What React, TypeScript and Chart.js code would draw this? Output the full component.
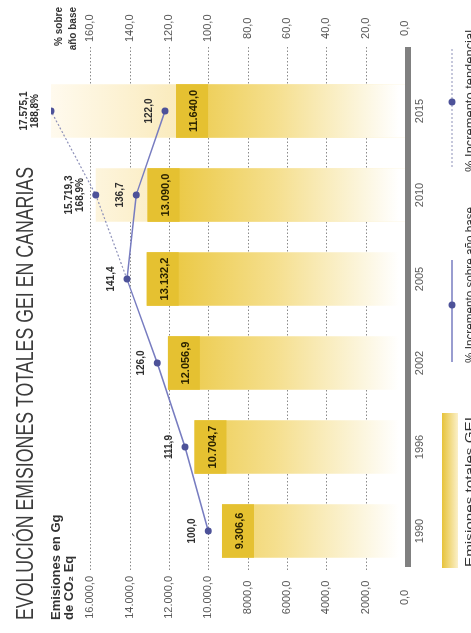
import { useEffect, useRef } from "react";
import { Chart, registerables } from "chart.js";

Chart.register(...registerables);

// ---------- data ----------
const years = ["1990", "1996", "2002", "2005", "2010", "2015"];
const emissions = [9306.6, 10704.7, 12056.9, 13132.2, 13090.0, 11640.0];
const pctIncrease = [100.0, 111.9, 126.0, 141.4, 136.7, 122.0];
// trend line (plotted on the emissions axis; 2005 starts at the 141,4 % point)
const trendLine = [null, null, null, 14140, 15719.3, 18000];
const trendBars = [null, null, null, null, 15719.3, 18000];
const trendLabelValues = [null, null, null, null, 15719.3, 17575.1];
const trendLabelPct = [null, null, null, null, 168.9, 188.8];

const TITLE = "EVOLUCIÓN EMISIONES TOTALES GEI EN CANARIAS";
const LEFT_TITLE = ["Emisiones en Gg", "de CO₂ Eq"];
const RIGHT_TITLE = ["% sobre", "año base"];
const LEGEND_BARS = "Emisiones totales GEI";
const LEGEND_LINE = "% Incremento sobre año base";
const LEGEND_TREND = "% Incremento tendencial";

const FONT = '"Liberation Sans", Arial, sans-serif';
const W = 633;
const H = 471;

function fmtNum(v: number, group = true) {
  const [i, d] = v.toFixed(1).split(".");
  const ig = group ? i.replace(/\B(?=(\d{3})+(?!\d))/g, ".") : i;
  return ig + "," + d;
}
const fmtTick = (v: number) => fmtNum(v, v >= 10000);

function fitText(ctx: CanvasRenderingContext2D, text: string, x: number, y: number, width: number) {
  const w = ctx.measureText(text).width;
  ctx.save();
  ctx.translate(x, y);
  ctx.scale(width / w, 1);
  ctx.textAlign = "left";
  ctx.fillText(text, 0, 0);
  ctx.restore();
}

const LINE_COLOR = "#777cc0";
const POINT_COLOR = "#4d5299";
const TREND_COLOR = "#8e91b9";

const decor = {
  id: "decor",
  beforeDatasetsDraw(chart: any) {
    const { ctx, chartArea: a, scales } = chart;
    const y = scales.y;
    ctx.save();
    ctx.strokeStyle = "#8a8a8a";
    ctx.lineWidth = 1;
    ctx.setLineDash([1.5, 2]);
    y.ticks.forEach((t: any) => {
      if (t.value <= 0) return;
      const py = Math.round(y.getPixelForValue(t.value)) + 0.5;
      ctx.beginPath();
      ctx.moveTo(a.left + 3, py);
      ctx.lineTo(a.right + 22, py);
      ctx.stroke();
    });
    ctx.setLineDash([]);
    ctx.fillStyle = "#808080";
    ctx.fillRect(a.left + 6, a.bottom, a.right + 22 - (a.left + 6), 6);
    ctx.restore();
  },
  afterDatasetDraw(chart: any, args: any) {
    if (args.index !== 1) return;
    const { ctx } = chart;
    const meta = chart.getDatasetMeta(1);
    ctx.save();
    meta.data.forEach((bar: any, i: number) => {
      const { x, y, width } = bar.getProps(["x", "y", "width"], true);
      ctx.fillStyle = "#e5c131";
      ctx.fillRect(x - width / 2, y, width, 32);
      ctx.fillStyle = "#2a2200";
      ctx.font = `bold 11px ${FONT}`;
      ctx.textAlign = "center";
      ctx.textBaseline = "middle";
      ctx.fillText(fmtNum(emissions[i]), x, y + 18);
    });
    ctx.restore();
  },
  afterDatasetsDraw(chart: any) {
    const { ctx } = chart;
    ctx.save();
    ctx.fillStyle = "#2e2e2e";
    ctx.font = `bold 10px ${FONT}`;
    ctx.textAlign = "center";
    ctx.textBaseline = "middle";
    chart.getDatasetMeta(2).data.forEach((p: any, i: number) => {
      ctx.fillText(fmtNum(pctIncrease[i]), p.x, p.y - 16);
    });
    chart.getDatasetMeta(3).data.forEach((p: any, i: number) => {
      const v = trendLabelValues[i];
      const pc = trendLabelPct[i];
      if (v == null || pc == null) return;
      ctx.fillText(fmtNum(v), p.x, p.y - 27);
      ctx.fillText(fmtNum(pc) + "%", p.x, p.y - 16);
    });
    ctx.restore();
  },
  afterDraw(chart: any) {
    const { ctx } = chart;
    ctx.save();
    // title
    ctx.fillStyle = "#3c3c3c";
    ctx.font = `24px ${FONT}`;
    ctx.textBaseline = "alphabetic";
    fitText(ctx, TITLE, 13, 33, 453);
    // left axis title
    ctx.fillStyle = "#333";
    ctx.font = `bold 13px ${FONT}`;
    ctx.textAlign = "left";
    ctx.fillText(LEFT_TITLE[0], 13, 60);
    ctx.fillText(LEFT_TITLE[1], 13, 73);
    // right axis title
    ctx.font = `bold 10px ${FONT}`;
    ctx.textAlign = "right";
    ctx.fillText(RIGHT_TITLE[0], 626, 62);
    ctx.fillText(RIGHT_TITLE[1], 626, 76);

    // legend
    const g = ctx.createLinearGradient(0, 442, 0, 458);
    g.addColorStop(0, "#e7c33a");
    g.addColorStop(1, "#fbf0c9");
    ctx.fillStyle = g;
    ctx.fillRect(65, 442, 155, 16);

    ctx.strokeStyle = LINE_COLOR;
    ctx.lineWidth = 1.5;
    ctx.beginPath();
    ctx.moveTo(271, 452);
    ctx.lineTo(373, 452);
    ctx.stroke();
    ctx.fillStyle = POINT_COLOR;
    ctx.beginPath();
    ctx.arc(328, 452, 3.5, 0, Math.PI * 2);
    ctx.fill();

    ctx.strokeStyle = TREND_COLOR;
    ctx.lineWidth = 1.2;
    ctx.setLineDash([2, 2]);
    ctx.beginPath();
    ctx.moveTo(466, 452);
    ctx.lineTo(585, 452);
    ctx.stroke();
    ctx.setLineDash([]);
    ctx.fillStyle = POINT_COLOR;
    ctx.beginPath();
    ctx.arc(531, 452, 3.5, 0, Math.PI * 2);
    ctx.fill();

    ctx.fillStyle = "#333";
    ctx.font = `13px ${FONT}`;
    ctx.textBaseline = "alphabetic";
    fitText(ctx, LEGEND_BARS, 66, 474, 150);
    fitText(ctx, LEGEND_LINE, 270, 474, 156);
    fitText(ctx, LEGEND_TREND, 461, 474, 142);
    ctx.restore();
  },
};

function barGradient(context: any) {
  const chart = context.chart;
  const a = chart.chartArea;
  if (!a) return "#ebc945";
  const g = chart.ctx.createLinearGradient(0, a.bottom - 230, 0, a.bottom - 6);
  g.addColorStop(0, "#ebc945");
  g.addColorStop(0.45, "#f5df8e");
  g.addColorStop(1, "#ffffff");
  return g;
}

function paleGradient(context: any) {
  const chart = context.chart;
  const a = chart.chartArea;
  if (!a) return "#fcf0cc";
  const g = chart.ctx.createLinearGradient(0, a.top, 0, a.bottom - 229);
  g.addColorStop(0, "#fffaee");
  g.addColorStop(1, "#faebbd");
  return g;
}

export default function App() {
  const ref = useRef<HTMLCanvasElement>(null);
  useEffect(() => {
    const chart = new Chart(ref.current as HTMLCanvasElement, {
      type: "bar",
      data: {
        labels: years,
        datasets: [
          {
            type: "bar",
            data: trendBars as any,
            yAxisID: "y",
            order: 4,
            grouped: false,
            backgroundColor: paleGradient as any,
            borderWidth: 0,
            barPercentage: 0.637,
            categoryPercentage: 1,
          },
          {
            type: "bar",
            data: emissions,
            yAxisID: "y",
            order: 3,
            grouped: false,
            backgroundColor: barGradient as any,
            borderWidth: 0,
            barPercentage: 0.637,
            categoryPercentage: 1,
          },
          {
            type: "line",
            data: pctIncrease,
            yAxisID: "y1",
            order: 1,
            borderColor: LINE_COLOR,
            borderWidth: 1.5,
            pointRadius: 3.5,
            pointBackgroundColor: POINT_COLOR,
            pointBorderWidth: 0,
            tension: 0,
          },
          {
            type: "line",
            data: trendLine as any,
            yAxisID: "y",
            order: 2,
            borderColor: TREND_COLOR,
            borderWidth: 1.2,
            borderDash: [2, 2],
            pointRadius: [0, 0, 0, 0, 3.5, 3.5],
            pointBackgroundColor: POINT_COLOR,
            pointBorderWidth: 0,
            tension: 0,
          },
        ],
      },
      options: {
        responsive: false,
        animation: false,
        devicePixelRatio: 1,
        layout: { padding: { top: 51, left: 0, right: 0, bottom: 0 } },
        plugins: {
          legend: { display: false },
          title: { display: false },
          tooltip: { enabled: false },
        },
        scales: {
          x: {
            type: "category",
            offset: true,
            grid: { display: false, drawTicks: false },
            border: { display: false },
            ticks: { color: "#555", font: { family: FONT, size: 11 }, padding: 8, maxRotation: 0 },
            afterFit: (s: any) => {
              s.height = 66;
            },
          },
          y: {
            position: "left",
            min: 0,
            max: 18000,
            grid: { display: false, drawTicks: false },
            border: { display: false },
            ticks: {
              stepSize: 2000,
              color: "#555",
              font: { family: FONT, size: 11 },
              padding: 3,
              crossAlign: "center",
              callback: (v: any) => fmtTick(Number(v)),
            },
            afterBuildTicks: (s: any) => {
              s.ticks = s.ticks.filter((t: any) => t.value <= 16000);
            },
            afterFit: (s: any) => {
              s.width = 60;
            },
          },
          y1: {
            position: "right",
            min: 0,
            max: 180,
            grid: { display: false, drawTicks: false },
            border: { display: false },
            ticks: {
              stepSize: 20,
              color: "#555",
              font: { family: FONT, size: 11 },
              padding: 27,
              crossAlign: "center",
              callback: (v: any) => fmtNum(Number(v), false),
            },
            afterBuildTicks: (s: any) => {
              s.ticks = s.ticks.filter((t: any) => t.value <= 160);
            },
            afterFit: (s: any) => {
              s.width = 69;
            },
          },
        },
      } as any,
      plugins: [decor],
    });
    return () => chart.destroy();
  }, []);

  return (
    <div
      style={{
        position: "fixed",
        left: 0,
        top: 0,
        width: H,
        height: W,
        overflow: "hidden",
        background: "#fff",
      }}
    >
      <div
        style={{
          position: "absolute",
          left: 0,
          top: 0,
          width: W,
          height: H,
          transformOrigin: "0 0",
          transform: `translateY(${W}px) rotate(-90deg)`,
        }}
      >
        <canvas ref={ref} width={W} height={H} style={{ display: "block", width: W, height: H }} />
      </div>
    </div>
  );
}
